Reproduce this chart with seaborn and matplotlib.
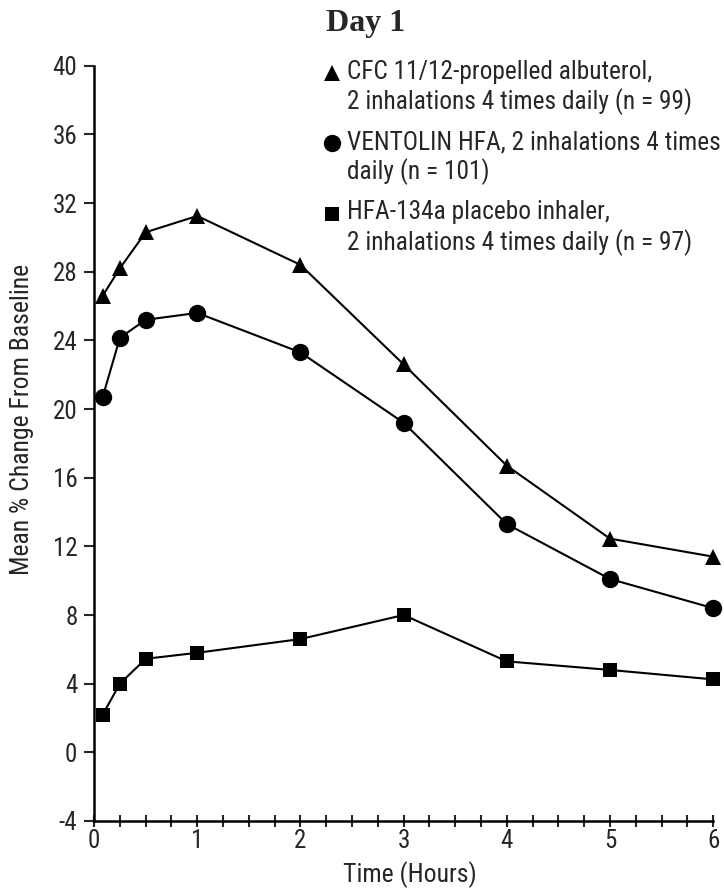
import numpy as np
import pandas as pd
import matplotlib
matplotlib.use("Agg")
import matplotlib.pyplot as plt
import seaborn as sns
from matplotlib import font_manager
from matplotlib.legend_handler import HandlerLine2D
from matplotlib.ticker import MultipleLocator

hours = [0.083, 0.25, 0.5, 1, 2, 3, 4, 5, 6]
cfc = [26.6, 28.2, 30.3, 31.25, 28.4, 22.6, 16.7, 12.45, 11.4]
ventolin = [20.7, 24.15, 25.2, 25.6, 23.3, 19.2, 13.3, 10.1, 8.4]
placebo = [2.2, 4.0, 5.45, 5.8, 6.6, 8.0, 5.3, 4.8, 4.25]

labels = ["CFC 11/12-propelled albuterol,\n2 inhalations 4 times daily (n = 99)",
          "VENTOLIN HFA, 2 inhalations 4 times\ndaily (n = 101)",
          "HFA-134a placebo inhaler,\n2 inhalations 4 times daily (n = 97)"]

df = pd.DataFrame({
    "Time": hours * 3,
    "Change": cfc + ventolin + placebo,
    "Group": [labels[0]] * 9 + [labels[1]] * 9 + [labels[2]] * 9,
})


class FirstLineHandler(HandlerLine2D):
    # put the marker next to the first text line, not the middle of the entry
    def create_artists(self, legend, orig_handle, xdescent, ydescent, width, height, fontsize, trans):
        arts = super().create_artists(legend, orig_handle, xdescent, ydescent,
                                      width, height, fontsize, trans)
        for a in arts:
            a.set_ydata(np.asarray(a.get_ydata(), dtype=float) + 0.58 * fontsize)
        return arts


# pick a narrow sans if one is around
have = {f.name for f in font_manager.fontManager.ttflist}
font = "DejaVu Sans"
for name in ["Roboto Condensed", "Liberation Sans Narrow", "Open Sans Condensed", "Roboto"]:
    if name in have:
        font = name
        break

sns.set_style("white")
plt.rcParams['font.family'] = [font, 'DejaVu Sans']
plt.rcParams['axes.unicode_minus'] = False

fig = plt.figure(figsize=(7.24, 8.92), dpi=100)
ax = fig.add_axes([0.13, 0.0796, 0.855, 0.8467])

sns.lineplot(data=df, x="Time", y="Change", hue="Group", style="Group",
             palette=["black"] * 3, markers={labels[0]: "^", labels[1]: "o", labels[2]: "s"},
             dashes=False, markersize=12, markeredgewidth=0, linewidth=1.5,
             ax=ax, clip_on=False)

msize = {"^": 11.5, "o": 12.5, "s": 9.5}
for ln in ax.lines:
    m = ln.get_marker()
    if m in msize:
        ln.set_markersize(msize[m])

ax.set_xlim(0, 6)
ax.set_ylim(-4, 40)
ax.set_yticks(np.arange(-4, 41, 4))
ax.xaxis.set_major_locator(MultipleLocator(1))
ax.xaxis.set_minor_locator(MultipleLocator(0.25))
ax.tick_params(axis="y", direction="out", length=7.5, width=1.5, labelsize=18, left=True, pad=4.5)
ax.tick_params(axis="x", which="major", direction="inout", length=8, width=1.5, labelsize=18, bottom=True, pad=2)
ax.tick_params(axis="x", which="minor", direction="inout", length=8, width=1.5, bottom=True)
for s in ["top", "right"]:
    ax.spines[s].set_visible(False)
for s in ["left", "bottom"]:
    ax.spines[s].set_linewidth(1.8)
    ax.spines[s].set_color("black")

ax.set_xlabel("Time (Hours)", fontsize=18.5)
ax.set_ylabel("Mean % Change From Baseline", fontsize=18.5)
ax.xaxis.set_label_coords(0.51, -0.053)
ax.yaxis.set_label_coords(-0.097, 0.532)

fig.text(0.5055, 0.974, "Day 1", ha="center", va="center", fontsize=23,
         fontweight="bold", family=["Liberation Serif", "DejaVu Serif"])

handles, lbls = ax.get_legend_handles_labels()
ax.get_legend().remove()
for h in handles:
    h.set_linestyle("none")
    m = h.get_marker()
    h.set_markersize({"^": 12, "o": 12.5, "s": 9.5}.get(m, 12))
leg = fig.legend(handles, lbls, loc="upper left", bbox_to_anchor=(0.4268, 0.9475),
                 bbox_transform=fig.transFigure,
                 frameon=False, fontsize=18.3, borderpad=0,
                 handlelength=0.8, handletextpad=0.2,
                 labelspacing=0.6,
                 handler_map={h: FirstLineHandler() for h in handles})
for t in leg.get_texts():
    t.set_linespacing(1.21)

fig.savefig("out.png", dpi=100)
